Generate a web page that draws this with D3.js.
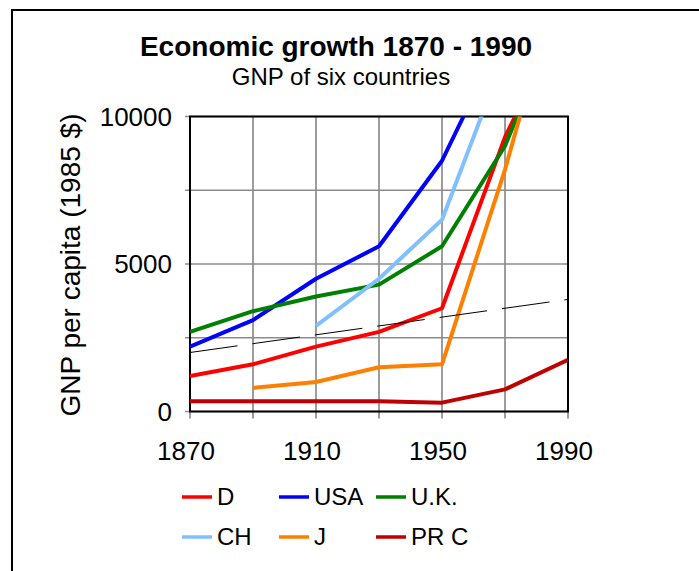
<!DOCTYPE html>
<html>
<head>
<script type="text/javascript" src="https://cdn.jsdelivr.net/npm/d3@7/dist/d3.min.js"></script>
<style>
  body { margin: 0; background: white; }
  text { font-family: "Liberation Sans", Arial, sans-serif; fill: black; }
</style>
</head>
<body>
<script>

var width = 699,
    height = 571;

// data (GNP per capita, 1985 $)
var years    = [1870, 1890, 1910, 1930, 1950, 1970, 1990];
var gnpD     = [1200, 1600, 2200, 2700, 3500, 9300, 13700];
var gnpUSA   = [2200, 3100, 4500, 5600, 8500, 12900, 18000];
var gnpUK    = [2700, 3400, 3900, 4300, 5600, 9000, 14200];
var gnpCH    = [null, null, 2900, 4500, 6500, 12100, 17000];
var gnpJ     = [null, 800, 1000, 1500, 1600, 8200, 15800];
var gnpPRC   = [350, 350, 350, 350, 300, 750, 1750];

var trendYears  = [1870, 1990];
var trendValues = [2000, 3800];

var xTickLabels = [1870, 1910, 1950, 1990];
var yTickLabels = [0, 5000, 10000];

var seriesNames  = ["D", "USA", "U.K.", "CH", "J", "PR C"];
var seriesValues = [gnpD, gnpUSA, gnpUK, gnpCH, gnpJ, gnpPRC];
var seriesColors = ["#FF0000", "#0000FF", "#008000", "#80C0FF", "#FF8000", "#C00000"];

var series = seriesNames.map(function (n, i) {
  return { name: n, color: seriesColors[i],
           pts: years.map(function (y, j) { return { year: y, v: seriesValues[i][j] }; })
                     .filter(function (d) { return d.v !== null; }) };
});

var plot = { left: 190, right: 568, top: 116.5, bottom: 411.5 };

var x = d3.scaleLinear().domain([1870, 1990]).range([plot.left, plot.right]);
var y = d3.scaleLinear().domain([0, 10000]).range([plot.bottom, plot.top]);

var svg = d3.select("body")
            .append("svg")
            .attr("width", width)
            .attr("height", height);

svg.append("rect")
   .attr("width", width).attr("height", height)
   .style("fill", "white");

// outer frame (runs off the right and bottom edges)
svg.append("rect")
   .attr("x", 12).attr("y", 10)
   .attr("width", 760).attr("height", 640)
   .style("fill", "none")
   .style("stroke", "black")
   .style("stroke-width", 2);

// titles
svg.append("text")
   .attr("x", 336).attr("y", 56)
   .attr("text-anchor", "middle")
   .style("font-size", "28px")
   .style("font-weight", "bold")
   .text("Economic growth 1870 - 1990");

svg.append("text")
   .attr("x", 341).attr("y", 85)
   .attr("text-anchor", "middle")
   .style("font-size", "24px")
   .text("GNP of six countries");

// grid
var gridX = d3.range(1870, 1991, 20),
    gridY = d3.range(0, 10001, 2500);

svg.append("g").selectAll("line")
   .data(gridX)
   .enter().append("line")
   .attr("x1", function (d) { return x(d); })
   .attr("x2", function (d) { return x(d); })
   .attr("y1", plot.top)
   .attr("y2", plot.bottom + 7)
   .style("stroke", "#8c8c8c")
   .style("stroke-width", 1.7);

svg.append("g").selectAll("line")
   .data(gridY)
   .enter().append("line")
   .attr("x1", plot.left - 5)
   .attr("x2", plot.right)
   .attr("y1", function (d) { return y(d); })
   .attr("y2", function (d) { return y(d); })
   .style("stroke", "#8c8c8c")
   .style("stroke-width", 1.7);

// plot frame
svg.append("rect")
   .attr("x", plot.left).attr("y", plot.top)
   .attr("width", plot.right - plot.left)
   .attr("height", plot.bottom - plot.top)
   .style("fill", "none")
   .style("stroke", "black")
   .style("stroke-width", 2);

// tick labels
svg.append("g").selectAll("text")
   .data(yTickLabels)
   .enter().append("text")
   .attr("x", 172)
   .attr("y", function (d) { return y(d); })
   .attr("dy", "0.36em")
   .attr("text-anchor", "end")
   .style("font-size", "26px")
   .text(function (d) { return d; });

svg.append("g").selectAll("text")
   .data(xTickLabels)
   .enter().append("text")
   .attr("x", function (d) { return x(d) - 4; })
   .attr("y", 460)
   .attr("text-anchor", "middle")
   .style("font-size", "26px")
   .text(function (d) { return d; });

svg.append("text")
   .attr("transform", "translate(80," + ((plot.top + plot.bottom) / 2 + 1) + ") rotate(-90)")
   .attr("text-anchor", "middle")
   .style("font-size", "28px")
   .text("GNP per capita (1985 $)");

// lines, clipped to the plot area
svg.append("clipPath").attr("id", "plotclip")
   .append("rect")
   .attr("x", plot.left).attr("y", plot.top)
   .attr("width", plot.right - plot.left)
   .attr("height", plot.bottom - plot.top);

var line = d3.line()
             .x(function (d) { return x(d.year); })
             .y(function (d) { return y(d.v); });

var lines = svg.append("g").attr("clip-path", "url(#plotclip)");

lines.selectAll("path.series")
     .data(series)
     .enter().append("path")
     .attr("class", "series")
     .attr("d", function (d) { return line(d.pts); })
     .style("fill", "none")
     .style("stroke", function (d) { return d.color; })
     .style("stroke-width", 4)
     .style("stroke-linejoin", "round");

lines.append("path")
     .datum(trendYears.map(function (t, i) { return { year: t, v: trendValues[i] }; }))
     .attr("d", line)
     .style("fill", "none")
     .style("stroke", "black")
     .style("stroke-width", 1)
     .style("stroke-dasharray", "48,15");

// legend
var legend = svg.append("g").selectAll("g")
                .data(series)
                .enter().append("g")
                .attr("transform", function (d, i) {
                  return "translate(" + (182 + (i % 3) * 97) + "," + (497 + Math.floor(i / 3) * 40) + ")"; });

legend.append("line")
      .attr("x1", 0).attr("x2", 30)
      .style("stroke", function (d) { return d.color; })
      .style("stroke-width", 3.5);

legend.append("text")
      .attr("x", 35).attr("y", 8)
      .style("font-size", "24px")
      .text(function (d) { return d.name; });

</script>
</body>
</html>
